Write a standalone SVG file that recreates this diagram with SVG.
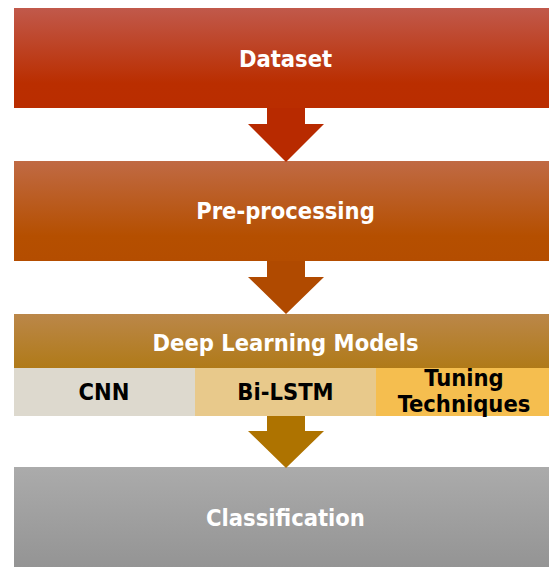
<svg xmlns="http://www.w3.org/2000/svg" width="549" height="567" viewBox="0 0 549 567">
  <defs>
    <linearGradient id="g1" x1="0" y1="0" x2="0" y2="1">
      <stop offset="0" stop-color="#C1594B"/>
      <stop offset="0.75" stop-color="#BA2E00"/>
      <stop offset="1" stop-color="#BA2D00"/>
    </linearGradient>
    <linearGradient id="g2" x1="0" y1="0" x2="0" y2="1">
      <stop offset="0" stop-color="#C06A44"/>
      <stop offset="0.75" stop-color="#B54F00"/>
      <stop offset="1" stop-color="#B44D00"/>
    </linearGradient>
    <linearGradient id="g3" x1="0" y1="0" x2="0" y2="1">
      <stop offset="0" stop-color="#BB8749"/>
      <stop offset="1" stop-color="#B07A18"/>
    </linearGradient>
    <linearGradient id="g4" x1="0" y1="0" x2="0" y2="1">
      <stop offset="0" stop-color="#ABABAB"/>
      <stop offset="1" stop-color="#949494"/>
    </linearGradient>
  </defs>
  <style>
    text { font-family: "DejaVu Sans Condensed", "DejaVu Sans", sans-serif; font-weight: bold; font-stretch: condensed; text-anchor: middle; }
    .w { fill: #FFFFFF; font-size: 23.5px; }
    .b { fill: #000000; font-size: 23.5px; }
  </style>
  <g id="dataset">
    <rect x="14" y="8" width="543" height="100" fill="url(#g1)"/>
    <text class="w" x="285.5" y="67">Dataset</text>
  </g>
  <g id="preprocessing">
    <rect x="14" y="161" width="543" height="100" fill="url(#g2)"/>
    <text class="w" x="285.5" y="219">Pre-processing</text>
  </g>
  <g id="deep-learning-models">
    <rect x="14" y="314" width="543" height="54" fill="url(#g3)"/>
    <text class="w" x="285.5" y="351">Deep Learning Models</text>
  </g>
  <g id="cnn">
    <rect x="14" y="368" width="181" height="48" fill="#DDD9CE"/>
    <text class="b" x="104" y="400">CNN</text>
  </g>
  <g id="bilstm">
    <rect x="195" y="368" width="181" height="48" fill="#E8C98B"/>
    <text class="b" x="285.5" y="400">Bi-LSTM</text>
  </g>
  <g id="tuning">
    <rect x="376" y="368" width="181" height="48" fill="#F5BE4F"/>
    <text class="b" x="464" y="386">Tuning</text>
    <text class="b" x="464" y="412">Techniques</text>
  </g>
  <g id="classification">
    <rect x="14" y="467" width="543" height="100" fill="url(#g4)"/>
    <text class="w" x="285.5" y="526" fill="#F2F2F2">Classification</text>
  </g>
  <g id="connectors">
    <path d="M267,108 H305 V124 H324 L286,162 L248,124 H267 Z" fill="#B82A00"/>
    <path d="M267,261 H305 V277 H324 L286,314 L248,277 H267 Z" fill="#B04A00"/>
    <path d="M267,416 H305 V431 H324 L286,468 L248,431 H267 Z" fill="#AE7300"/>
  </g>
</svg>
